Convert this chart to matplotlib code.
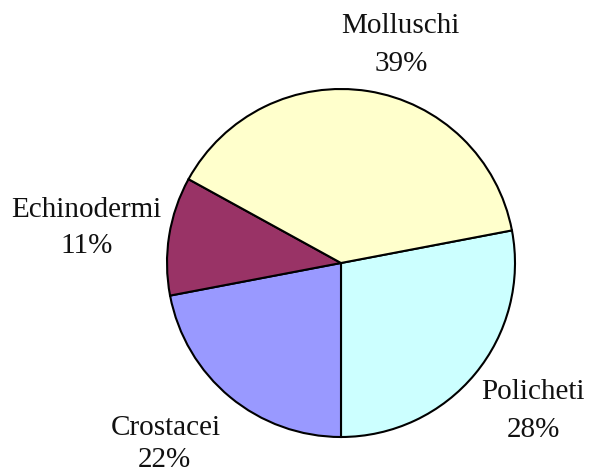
import matplotlib.pyplot as plt

# slices listed clockwise starting from the right-hand boundary
categories = ['Policheti', 'Crostacei', 'Echinodermi', 'Molluschi']
shares = [28, 22, 11, 39]
pct_labels = ['28%', '22%', '11%', '39%']
colors = ['#CCFFFF', '#9999FF', '#993366', '#FFFFCC']

W, H = 590, 472
fig = plt.figure(figsize=(W / 100, H / 100), dpi=100)
ax = fig.add_axes([0, 0, 1, 1])

ax.pie(shares, colors=colors, startangle=10.8, counterclock=False,
       center=(341, H - 263), radius=174,
       wedgeprops=dict(edgecolor='black', linewidth=1.5))
ax.set_xlim(0, W)
ax.set_ylim(0, H)
ax.set_aspect('equal')
ax.axis('off')

# label positions in pixel coords (name centre, percent centre)
label_pos = {
    'Policheti': ((533, 392), (533, 430)),
    'Crostacei': ((166, 428), (164, 460)),
    'Echinodermi': ((86, 210), (87, 246)),
    'Molluschi': ((400, 26), (401, 64)),
}
font = dict(family='Liberation Serif', fontsize=21, color='#111111',
            ha='center', va='center')
for name, pct in zip(categories, pct_labels):
    (nx, ny), (px, py) = label_pos[name]
    ax.text(nx, H - ny, name, **font)
    ax.text(px, H - py, pct, **font)

fig.savefig('out.png', dpi=100)
